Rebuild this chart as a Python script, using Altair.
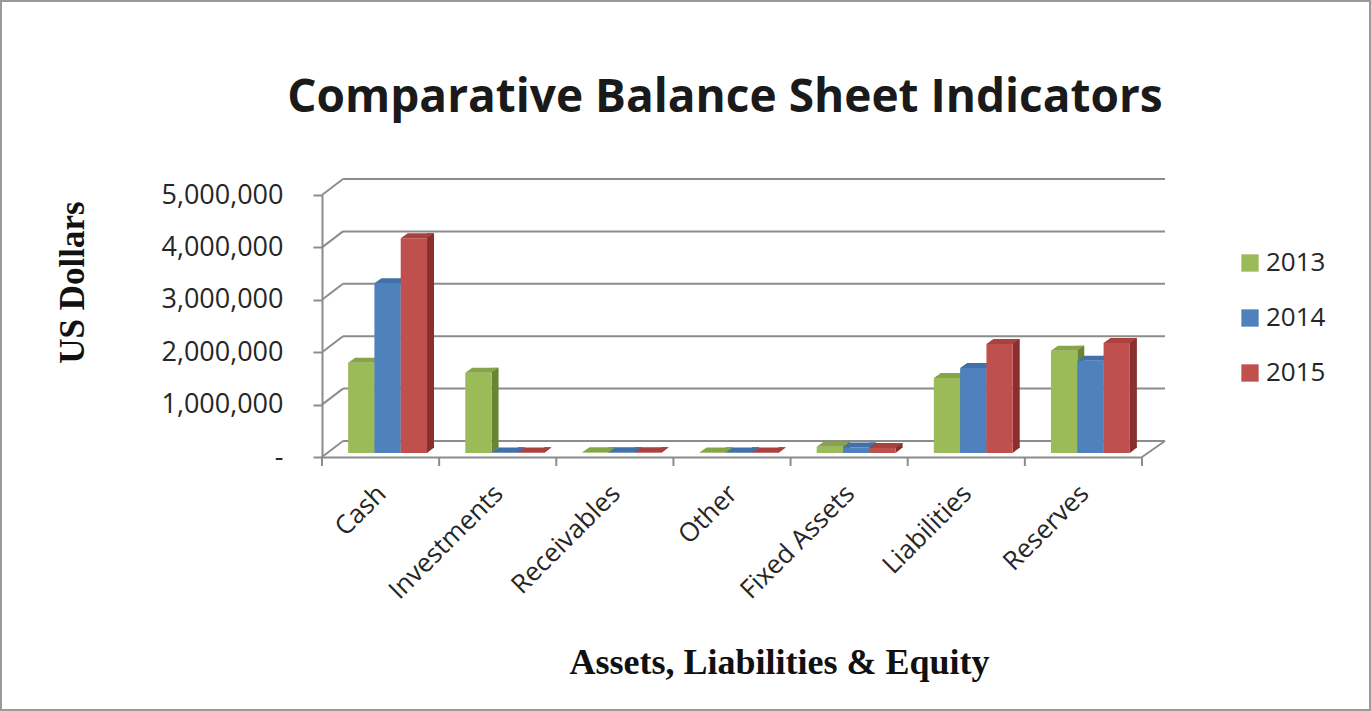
import altair as alt
import pandas as pd

title_text = "Comparative Balance Sheet Indicators"
categories = ["Cash", "Investments", "Receivables", "Other", "Fixed Assets", "Liabilities", "Reserves"]
years = ["2013", "2014", "2015"]
v2013 = [1720000, 1530000, 12000, 10000, 120000, 1430000, 1950000]
v2014 = [3240000, 10000, 12000, 10000, 105000, 1620000, 1760000]
v2015 = [4100000, 10000, 12000, 10000, 95000, 2080000, 2100000]
y_ticks = [0, 1000000, 2000000, 3000000, 4000000, 5000000]

front_colors = ["#9BBB59", "#4F81BD", "#C0504D"]
top_colors = ["#86A548", "#4270A8", "#A9423F"]
side_colors = ["#6A8532", "#335C8E", "#8A2F2D"]

rows = []
for yr, vals in zip(years, [v2013, v2014, v2015]):
    for c, v in zip(categories, vals):
        rows.append({"category": c, "year": yr, "value": v})
df = pd.DataFrame(rows)
ticks_df = pd.DataFrame({"value": y_ticks})
cat_df = pd.DataFrame({"category": categories})
title_df = pd.DataFrame({"t": [title_text]})

W, H = 820, 262
STEP = W / len(categories)
BW = 26.3          # bar width
DX, DY = 7, 5      # bar depth
BASE = -4          # bar plane offset (y)
WALL_DX, WALL_DY = 21, 16
GRID = "#8C8C8C"

xs = alt.X("category:N", sort=categories,
           scale=alt.Scale(paddingInner=0, paddingOuter=0),
           axis=alt.Axis(title="Assets, Liabilities & Equity", labelAngle=-45,
                         labelFont="Open Sans", labelFontSize=26, labelColor="#262626",
                         labelPadding=23, labelOffset=-8, ticks=False,
                         domainColor=GRID, domainWidth=2,
                         titleFont="Liberation Serif", titleFontSize=36, titleFontWeight="bold",
                         titleColor="#111111", titleX=457, titleY=216,
                         titleBaseline="alphabetic", titleAlign="center"))
ys = alt.Y("value:Q", scale=alt.Scale(domain=[0, 5000000], nice=False),
           axis=alt.Axis(title="US Dollars", values=y_ticks, grid=False,
                         labelExpr="datum.value == 0 ? '-' : format(datum.value, ',')",
                         labelFont="Open Sans", labelFontSize=27, labelColor="#262626",
                         labelPadding=30, tickSize=9, tickColor=GRID, tickWidth=2,
                         domainColor=GRID, domainWidth=2,
                         titleFont="Liberation Serif", titleFontSize=35, titleFontWeight="bold",
                         titleColor="#111111", titleAngle=-90, titleX=-239, titleY=87,
                         titleBaseline="alphabetic", titleAlign="center"))

base = alt.Chart(df)

# back wall gridlines
wall = alt.Chart(ticks_df).mark_rule(color=GRID, strokeWidth=2, yOffset=-WALL_DY).encode(
    y=ys, x=alt.value(WALL_DX), x2=alt.value(W + WALL_DX + 2))
diag = alt.Chart(ticks_df).mark_rule(color=GRID, strokeWidth=2, y2Offset=-WALL_DY).encode(
    y=ys, y2="value:Q", x=alt.value(0), x2=alt.value(WALL_DX))
floor_r = alt.Chart(ticks_df).transform_filter("datum.value == 0").mark_rule(
    color=GRID, strokeWidth=2, y2Offset=-WALL_DY).encode(
    y=ys, y2="value:Q", x=alt.value(W), x2=alt.value(W + WALL_DX + 2))

# x tick marks at band boundaries
xticks_a = alt.Chart(cat_df).mark_rule(color=GRID, strokeWidth=2, xOffset=-STEP / 2).encode(
    x=xs, y=alt.value(H), y2=alt.value(H + 9))
xticks_b = alt.Chart(cat_df).transform_filter("datum.category == 'Reserves'").mark_rule(
    color=GRID, strokeWidth=2, xOffset=STEP / 2).encode(
    x=xs, y=alt.value(H), y2=alt.value(H + 9))

layers = [wall, diag, floor_r, xticks_a, xticks_b]
offsets = [7 - BW, 7, 7 + BW]
for i, yr in enumerate(years):
    off = offsets[i]
    sub = base.transform_filter(alt.datum.year == yr)
    side = sub.mark_bar(width=DX, xOffset=off + BW / 2 + DX / 2,
                        yOffset=BASE - DY, y2Offset=BASE - DY, color=side_colors[i]).encode(
        x=xs, y=ys, y2=alt.datum(0))
    tri = sub.mark_point(shape="M0,0 L0,-%.1f L%d,-%.1f Z" % (DY + 0.5, DX, DY + 0.5), size=4,
                         filled=True, opacity=1, strokeWidth=0, color=side_colors[i],
                         xOffset=off + BW / 2, yOffset=BASE).encode(
        x=xs, y=alt.datum(0))
    front = sub.mark_bar(width=BW, xOffset=off, yOffset=BASE, y2Offset=BASE).encode(
        x=xs, y=ys, y2=alt.datum(0),
        color=alt.Color("year:N", scale=alt.Scale(domain=years, range=front_colors),
                        legend=alt.Legend(title=None, orient="none", legendX=915, legendY=55,
                                          symbolType="square", symbolSize=300,
                                          symbolStrokeWidth=0,
                                          labelFont="Open Sans", labelFontSize=26,
                                          labelColor="#262626", labelOffset=3,
                                          rowPadding=29)))
    top = sub.mark_point(shape="M0,0 L%d,-%d L%.1f,-%d L%.1f,0 Z" % (DX, DY, BW + DX, DY, BW),
                         size=4, filled=True, opacity=1, strokeWidth=0, color=top_colors[i],
                         xOffset=off - BW / 2, yOffset=BASE).encode(
        x=xs, y=ys)
    layers += [side, tri, front, top]

title = alt.Chart(title_df).mark_text(font="Open Sans", fontSize=46, fontWeight="bold",
                                      color="#1A1A1A", align="center", baseline="alphabetic").encode(
    text="t:N", x=alt.value(403), y=alt.value(112 - 195))

border = alt.Chart(cat_df).mark_rect(fillOpacity=0, stroke="#9A9A9A", strokeWidth=2).encode(
    x=alt.value(-321), x2=alt.value(1371 - 322 - 1), y=alt.value(-194), y2=alt.value(711 - 195 - 1))
layers += [title, border]

chart = alt.layer(*layers).properties(
    width=W, height=H,
    autosize=alt.AutoSizeParams(type="none"),
    padding={"left": 322, "top": 195, "right": 1371 - 322 - W, "bottom": 711 - 195 - H},
    background="white",
).configure_view(stroke=None)

chart.save("out.html", embed_options={"renderer": "svg", "actions": False})
